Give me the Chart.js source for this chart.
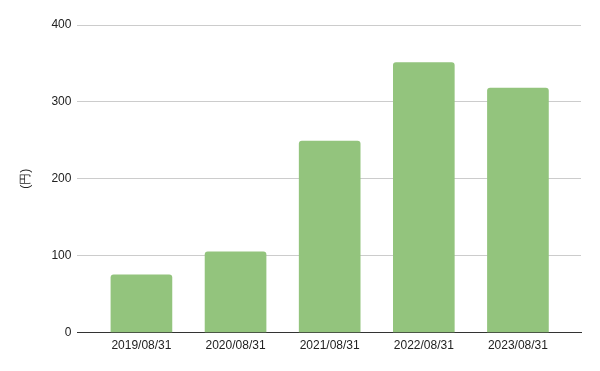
<!DOCTYPE html>
<html>
<head>
<meta charset="utf-8">
<script src="https://cdn.jsdelivr.net/npm/chart.js@4/dist/chart.umd.min.js"></script>
<style>
html,body{margin:0;padding:0;background:#fff;}
#wrap{width:600px;height:371px;position:relative;}
</style>
</head>
<body>
<div id="wrap"><canvas id="c" width="600" height="371"></canvas></div>
<script>
const categories = ["2019/08/31","2020/08/31","2021/08/31","2022/08/31","2023/08/31"];
const values = [75, 105, 249, 351, 318];
const yTicks = [0, 100, 200, 300, 400];
const yTitle = "(円)";

const points = values.map((v, i) => ({x: i, y: v}));

new Chart(document.getElementById('c'), {
  type: 'bar',
  data: {
    datasets: [{
      data: points,
      backgroundColor: '#93c47d',
      borderRadius: 3,
      borderSkipped: 'start',
      barThickness: 61
    }]
  },
  options: {
    responsive: false,
    animation: false,
    devicePixelRatio: 1,
    layout: {padding: {top: 25, right: 19, bottom: 12, left: 18}},
    plugins: {legend: {display: false}, tooltip: {enabled: false}},
    scales: {
      x: {
        type: 'linear',
        offset: false,
        min: -0.68,
        max: 4.67,
        grid: {display: false, drawTicks: false, offset: false},
        border: {display: true, color: '#333333', width: 1},
        ticks: {
          includeBounds: false,
          stepSize: 1,
          autoSkip: false,
          maxRotation: 0,
          padding: 6,
          color: '#222222',
          font: {family: 'Liberation Sans, Arial, sans-serif', size: 12},
          callback: function(v) {
            return Number.isInteger(v) && categories[v] !== undefined ? categories[v] : '';
          }
        }
      },
      y: {
        min: yTicks[0],
        max: yTicks[yTicks.length - 1],
        afterBuildTicks: function(scale) {
          scale.ticks = yTicks.map(v => ({value: v}));
        },
        grid: {color: '#cccccc', drawTicks: false},
        border: {display: false},
        ticks: {
          padding: 6,
          color: '#222222',
          font: {family: 'Liberation Sans, Arial, sans-serif', size: 12}
        },
        title: {
          display: true,
          text: yTitle,
          color: '#222222',
          padding: {top: 0, bottom: 13},
          font: {family: 'Liberation Sans, Arial, sans-serif', size: 12}
        }
      }
    }
  }
});
</script>
</body>
</html>
